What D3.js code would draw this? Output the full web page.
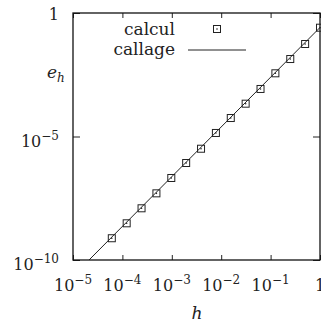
<!DOCTYPE html>
<html>
<head>
<meta charset="utf-8">
<script src="https://cdn.jsdelivr.net/npm/d3@7"></script>
<style>
  body { margin: 0; background: #fff; }
  svg text { font-family: 'DejaVu Serif', serif; fill: #222; }
</style>
</head>
<body>
<svg id="chart" width="321" height="322"></svg>
<script>
// ---- data ----
var calculH = [1, 0.5, 0.25, 0.125, 0.0625, 0.03125, 0.015625, 0.0078125,
    0.00390625, 0.001953125, 0.0009765625, 0.00048828125,
    0.000244140625, 0.0001220703125, 0.00006103515625];
var calculE = [0.254, 0.0556, 0.0137, 0.00362, 8.4e-4, 2.13e-4, 5.6e-5, 1.39e-5,
    3.2e-6, 8.45e-7, 2.09e-7, 5.0e-8, 1.24e-8, 3.06e-9, 7.6e-10];
var callageH = [2.11e-5, 1];
var callageE = [1e-10, 0.259];
var xTicks = [1e-5, 1e-4, 1e-3, 1e-2, 1e-1, 1];
var xExps = ["\u22125", "\u22124", "\u22123", "\u22122", "\u22121", ""];
var yTicks = [1e-10, 1e-5, 1];
var yExps = ["\u221210", "\u22125", ""];
var legendLabels = ["calcul", "callage"];

var pLeft = 73, pRight = 320, pTop = 13, pBottom = 260;
var svg = d3.select("#chart");

var x = d3.scaleLog().domain([1e-5, 1]).range([pLeft, pRight]);
var y = d3.scaleLog().domain([1e-10, 1]).range([pBottom, pTop]);

// tick marks (inward, mirrored on both sides)
svg.append("g").attr("transform", "translate(0," + pBottom + ")")
    .call(d3.axisBottom(x).tickValues(xTicks).tickSize(-5).tickFormat(""));
svg.append("g").attr("transform", "translate(0," + pTop + ")")
    .call(d3.axisTop(x).tickValues(xTicks).tickSize(-5).tickFormat(""));
svg.append("g").attr("transform", "translate(" + pLeft + ",0)")
    .call(d3.axisLeft(y).tickValues(yTicks).tickSize(-7).tickFormat(""));
svg.append("g").attr("transform", "translate(" + pRight + ",0)")
    .call(d3.axisRight(y).tickValues(yTicks).tickSize(-7).tickFormat(""));
svg.selectAll(".domain").remove();
svg.selectAll(".tick line").attr("stroke", "#222").attr("stroke-width", 1);

// border
svg.append("rect")
    .attr("x", pLeft).attr("y", pTop)
    .attr("width", pRight - pLeft).attr("height", pBottom - pTop)
    .attr("fill", "none").attr("stroke", "#111").attr("stroke-width", 1.3);

// tick labels
function powLabel(sel, exps) {
    sel.each(function (d, i) {
        var t = d3.select(this);
        if (exps[i] === "") { t.text("1"); return; }
        t.append("tspan").text("10");
        t.append("tspan").attr("dy", -7).style("font-size", "12px").text(exps[i]);
    });
}
svg.append("g").selectAll("text").data(xTicks).enter().append("text")
    .attr("x", function (d) { return x(d); })
    .attr("y", 291)
    .attr("text-anchor", "middle")
    .style("font-size", "16px")
    .call(powLabel, xExps);
svg.append("g").selectAll("text").data(yTicks).enter().append("text")
    .attr("x", 59)
    .attr("y", function (d, i) { return y(d) + (yExps[i] === "" ? 7 : 10); })
    .attr("text-anchor", "end")
    .style("font-size", "16px")
    .call(powLabel, yExps);

// axis titles
var yl = svg.append("text").attr("x", 47).attr("y", 78)
    .style("font-size", "17px").style("font-style", "italic");
yl.append("tspan").text("e");
yl.append("tspan").attr("dy", 4).style("font-size", "12px").text("h");
svg.append("text").attr("x", 197).attr("y", 319)
    .attr("text-anchor", "middle")
    .style("font-size", "17px").style("font-style", "italic")
    .text("h");

// callage line
var line = d3.line()
    .x(function (d) { return x(d[0]); })
    .y(function (d) { return y(d[1]); });
svg.append("path")
    .datum(d3.zip(callageH, callageE))
    .attr("d", line)
    .attr("fill", "none").attr("stroke", "#222").attr("stroke-width", 1);

// calcul points
function marker(g) {
    g.append("rect").attr("x", -3.5).attr("y", -3.5).attr("width", 7).attr("height", 7)
        .attr("fill", "none").attr("stroke", "#222").attr("stroke-width", 1);
    g.append("circle").attr("r", 0.8).attr("fill", "#222");
}
svg.append("g").selectAll("g").data(d3.zip(calculH, calculE)).enter().append("g")
    .attr("transform", function (d) { return "translate(" + x(d[0]) + "," + y(d[1]) + ")"; })
    .call(marker);

// legend
var leg = svg.append("g");
leg.selectAll("text").data(legendLabels).enter().append("text")
    .attr("x", 175)
    .attr("y", function (d, i) { return 35 + i * 20; })
    .attr("text-anchor", "end")
    .style("font-size", "17px")
    .text(function (d) { return d; });
leg.append("g").attr("transform", "translate(217,29)").call(marker);
leg.append("line").attr("x1", 188).attr("x2", 246).attr("y1", 50).attr("y2", 50)
    .attr("stroke", "#222").attr("stroke-width", 1);
</script>
</body>
</html>
